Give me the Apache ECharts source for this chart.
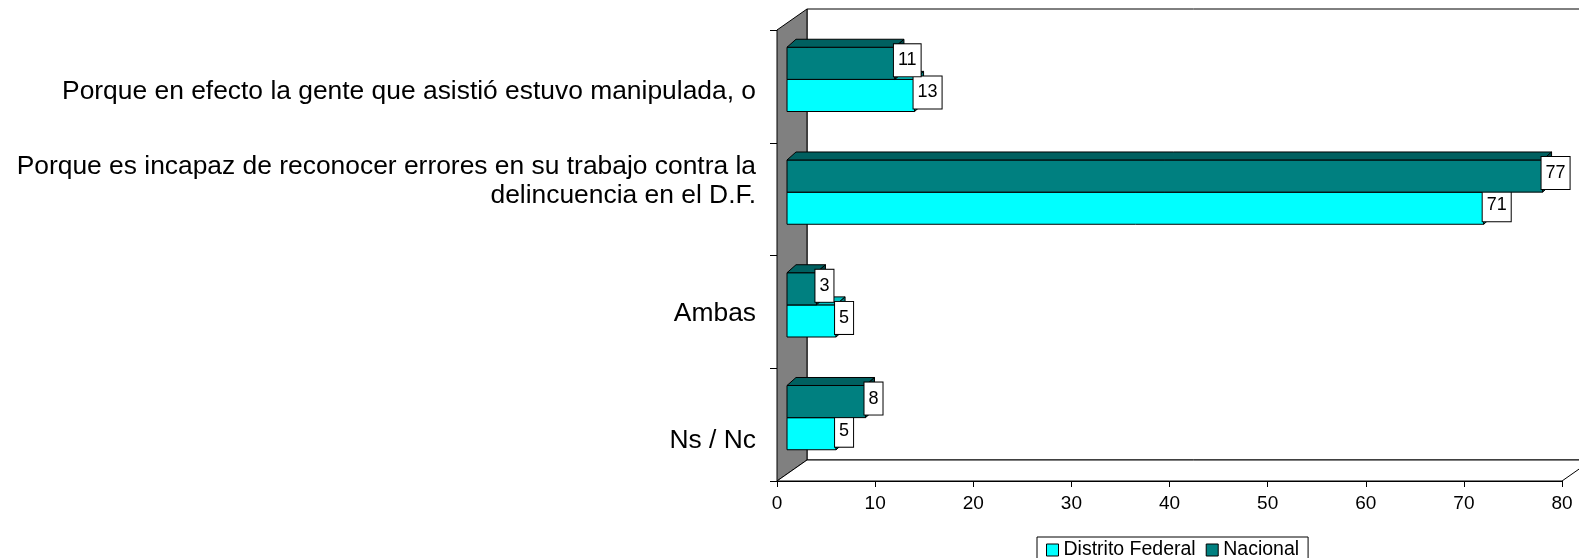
<!DOCTYPE html>
<html>
<head>
<meta charset="utf-8">
<script src="https://cdn.jsdelivr.net/npm/echarts@6/dist/echarts.min.js"></script>
<style>
  html, body { margin: 0; padding: 0; background: #fff; }
  #chart { width: 1579px; height: 558px; }
</style>
</head>
<body>
<div id="chart"></div>
<script>
const categories = [
  'Porque en efecto la gente que asistió estuvo manipulada, o',
  'Porque es incapaz de reconocer errores en su trabajo contra la\ndelincuencia en el D.F.',
  'Ambas',
  'Ns / Nc',
];
const distritoFederal = [13, 71, 5, 5];
const nacional = [11, 77, 3, 8];
const xTicks = { min: 0, max: 80, interval: 10 };

// excel puts the category labels a bit off the band centre
const labelNudge = [5, -18, 2, 16];

const FONT = '"Liberation Sans", Arial, sans-serif';
// 3d look: depth of the walls, where the bars sit and how deep they are
const WALL_DX = 30, WALL_DY = -21;
const SHIFT_X = 10, SHIFT_Y = -7;
const BAR_DX = 9, BAR_DY = -8;

const colors = {
  df: { front: '#00FFFF', top: '#00C0C0', side: '#008080' },
  nac: { front: '#008080', top: '#006060', side: '#004848' },
};

const frameItem = (params, api) => {
  const cs = params.coordSys;
  const l = cs.x, t = cs.y, r = cs.x + cs.width, b = cs.y + cs.height;
  const line = { stroke: '#000', lineWidth: 1 };
  return {
    type: 'group',
    children: [
      { type: 'rect', shape: { x: l + WALL_DX, y: t + WALL_DY, width: cs.width, height: cs.height },
        style: { fill: '#fff', ...line } },
      { type: 'polygon', shape: { points: [[l, t], [l + WALL_DX, t + WALL_DY], [l + WALL_DX, b + WALL_DY], [l, b]] },
        style: { fill: '#808080', ...line } },
      { type: 'polygon', shape: { points: [[l, b], [l + WALL_DX, b + WALL_DY], [r + WALL_DX, b + WALL_DY], [r, b]] },
        style: { fill: '#fff', ...line } },
    ],
  };
};

const barItem = (slot, c) => (params, api) => {
  const val = api.value(0), cat = api.value(1);
  const base = api.coord([0, cat]);
  const end = api.coord([val, cat]);
  const band = api.size([0, 1])[1];
  const h = band * 0.285;
  const x0 = base[0] + SHIFT_X, x1 = end[0] + SHIFT_X;
  const y0 = base[1] + SHIFT_Y - (slot === 0 ? h : 0);
  const line = { stroke: '#000', lineWidth: 1 };
  return {
    type: 'group',
    children: [
      { type: 'rect', shape: { x: x0, y: y0, width: x1 - x0, height: h }, style: { fill: c.front, ...line } },
      { type: 'polygon', shape: { points: [[x0, y0], [x1, y0], [x1 + BAR_DX, y0 + BAR_DY], [x0 + BAR_DX, y0 + BAR_DY]] },
        style: { fill: c.top, ...line } },
      { type: 'polygon', shape: { points: [[x1, y0], [x1, y0 + h], [x1 + BAR_DX, y0 + h + BAR_DY], [x1 + BAR_DX, y0 + BAR_DY]] },
        style: { fill: c.side, ...line } },
      { type: 'text', z2: 10,
        style: {
          x: x1 - 1, y: y0 + h / 2 - 3, text: String(val),
          align: 'left', verticalAlign: 'middle',
          fontSize: 18, fontFamily: FONT, fill: '#000',
          backgroundColor: '#fff', borderColor: '#000', borderWidth: 1, padding: [8, 4, 6, 4],
        } },
    ],
  };
};

const rich = { t: { fontSize: 26.4, lineHeight: 29, fontFamily: FONT, color: '#000' } };
labelNudge.forEach((n, i) => { rich['g' + i] = { fontSize: 1, lineHeight: Math.abs(n) * 2 }; });

const chart = echarts.init(document.getElementById('chart'));
chart.setOption({
  animation: false,
  grid: { left: 777, right: 17, top: 30, bottom: 77, containLabel: false },
  xAxis: {
    type: 'value',
    ...xTicks,
    axisLine: { show: true, lineStyle: { color: '#000' } },
    axisTick: { show: true, length: 6, lineStyle: { color: '#000' } },
    axisLabel: { color: '#000', fontSize: 19, fontFamily: FONT, margin: 13 },
    splitLine: { show: false },
  },
  yAxis: {
    type: 'category',
    inverse: true,
    data: categories,
    axisLine: { show: true, lineStyle: { color: '#000' } },
    axisTick: { show: true, length: 7, lineStyle: { color: '#000' } },
    axisLabel: {
      margin: 21,
      fontSize: 26.4,
      fontFamily: FONT,
      color: '#000',
      formatter: (value, index) => {
        const n = labelNudge[index];
        const body = '{t|' + value + '}';
        if (n > 0) return '{g' + index + '| }\n' + body;
        if (n < 0) return body + '\n{g' + index + '| }';
        return body;
      },
      rich,
    },
  },
  legend: {
    data: [
      { name: 'Distrito Federal', itemStyle: { color: colors.df.front, borderColor: '#000', borderWidth: 1 } },
      { name: 'Nacional', itemStyle: { color: colors.nac.front, borderColor: '#000', borderWidth: 1 } },
    ],
    left: 1037,
    top: 537,
    icon: 'rect',
    itemWidth: 12,
    itemHeight: 12,
    itemGap: 10,
    padding: [3, 9, 4, 9],
    borderColor: '#000',
    borderWidth: 1,
    textStyle: { color: '#000', fontSize: 19.5, fontFamily: FONT },
  },
  series: [
    { type: 'custom', name: 'frame', z: 1, clip: false, silent: true,
      renderItem: frameItem, data: [[0, 0]], encode: { x: 0, y: 1 } },
    { type: 'custom', name: 'Distrito Federal', z: 2, clip: false,
      itemStyle: { color: colors.df.front },
      renderItem: barItem(1, colors.df),
      data: distritoFederal.map((v, i) => [v, i]), encode: { x: 0, y: 1 } },
    { type: 'custom', name: 'Nacional', z: 3, clip: false,
      itemStyle: { color: colors.nac.front },
      renderItem: barItem(0, colors.nac),
      data: nacional.map((v, i) => [v, i]), encode: { x: 0, y: 1 } },
  ],
});
</script>
</body>
</html>
